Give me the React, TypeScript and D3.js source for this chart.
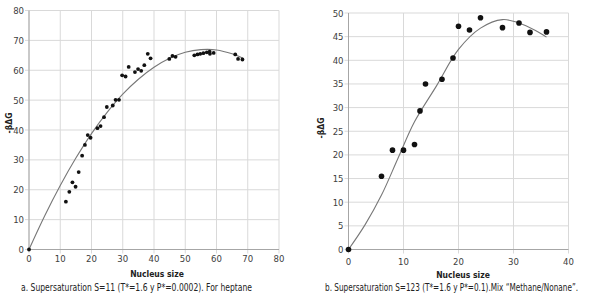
import React, { useLayoutEffect, useRef } from "react";
import * as d3 from "d3";

// Chart a: heptane
const aX = [0, 11.8, 12.9, 13.9, 14.9, 15.9, 17, 17.9, 18.8, 19.7, 21.9, 22.9, 24, 24.9, 26.8, 27.7, 28.8, 29.8, 30.9, 31.9, 33.9, 34.9, 35.9, 36.9, 38, 38.9, 44.9, 45.9, 46.9, 52.9, 53.9, 54.8, 55.8, 56.9, 57.8, 57.9, 59.1, 66, 66.9, 68.3];
const aY = [0, 16.0, 19.3, 22.5, 21.0, 25.9, 31.4, 35.0, 38.3, 37.4, 40.6, 41.3, 44.3, 47.7, 48.2, 50.1, 50.1, 58.3, 57.9, 61.1, 59.4, 60.4, 59.8, 61.7, 65.5, 64.0, 63.8, 64.8, 64.5, 65.0, 65.3, 65.5, 65.7, 66.0, 66.2, 65.5, 65.8, 65.3, 63.8, 63.6];
const aTrendX = [0, 5, 10, 15, 20, 25, 30, 35, 40, 45, 50, 55, 60, 65, 68.5];
const aTrendY = [0, 11.2, 21.4, 30.6, 38.8, 45.9, 52.0, 57.0, 61.0, 64.0, 66.0, 66.9, 66.8, 65.5, 64.0];
const aXTicks = [0, 10, 20, 30, 40, 50, 60, 70, 80];
const aYTicks = [0, 10, 20, 30, 40, 50, 60, 70, 80];
const aCaption = "a.  Supersaturation S=11 (T*=1.6 y P*=0.0002). For heptane";

// Chart b: methane/nonane
const bX = [0, 6, 8, 10, 12, 13, 14, 17, 19, 20, 22, 24, 28, 31, 33, 36];
const bY = [0, 15.5, 21, 21, 22.2, 29.3, 35, 36, 40.5, 47.2, 46.4, 49, 46.9, 47.9, 45.9, 46];
const bTrendX = [0, 3, 6, 9, 12, 16, 20, 24, 28, 31, 34, 36];
const bTrendY = [0, 5.2, 11.5, 19.3, 27.0, 34.6, 42.3, 46.8, 48.6, 47.9, 46.3, 44.9];
const bXTicks = [0, 10, 20, 30, 40];
const bYTicks = [0, 5, 10, 15, 20, 25, 30, 35, 40, 45, 50];
const bCaption = "b.  Supersaturation S=123 (T*=1.6 y P*=0.1).Mix \u201CMethane/Nonane\u201D.";

const yLabel = "-\u03B2\u0394G";
const xLabel = "Nucleus size";
const FONT = "'DejaVu Sans Condensed', 'Roboto', sans-serif";

function Caption({ text, cx, cy, w }: { text: string; cx: number; cy: number; w: number }) {
  const ref = useRef<SVGTextElement>(null);
  useLayoutEffect(() => {
    const el = ref.current;
    if (!el) return;
    const natural = el.getComputedTextLength();
    const s = natural > 0 ? w / natural : 0.8;
    el.setAttribute("transform", `translate(${cx},${cy}) scale(${s},1)`);
  }, [text, cx, cy, w]);
  return (
    <text ref={ref} transform={`translate(${cx},${cy}) scale(0.8,1)`} textAnchor="middle" fontSize={10.5}
      fontFamily={FONT} fill="#222">{text}</text>
  );
}

type PanelProps = {
  xs: number[]; ys: number[]; tx: number[]; ty: number[];
  xTicks: number[]; yTicks: number[];
  x0: number; x1: number; y0: number; y1: number;
  xMax: number; yMax: number; r: number;
  caption: string; captionX: number; captionW: number; xLabelX: number; yLabelX: number; yLabelY: number;
  xTickY: number; xLabelY: number; captionY: number;
};

function Panel(p: PanelProps) {
  const x = d3.scaleLinear().domain([0, p.xMax]).range([p.x0, p.x1]);
  const y = d3.scaleLinear().domain([0, p.yMax]).range([p.y0, p.y1]);
  const line = d3.line<number>().x((d, i) => x(p.tx[i])).y((d, i) => y(p.ty[i])).curve(d3.curveCatmullRom);
  return (
    <g>
      {p.yTicks.map((t) => (
        <line key={"gy" + t} x1={p.x0 - 4} x2={p.x1} y1={y(t)} y2={y(t)} stroke="#d9d9d9" strokeWidth={1} />
      ))}
      {p.xTicks.map((t) => (
        <line key={"gx" + t} x1={x(t)} x2={x(t)} y1={p.y1} y2={p.y0 + 4} stroke="#d9d9d9" strokeWidth={1} />
      ))}
      <line x1={p.x0} x2={p.x0} y1={p.y1} y2={p.y0} stroke="#a6a6a6" strokeWidth={1} />
      <line x1={p.x0} x2={p.x1} y1={p.y0} y2={p.y0} stroke="#a6a6a6" strokeWidth={1} />
      {p.yTicks.map((t) => (
        <text key={"ly" + t} x={p.x0 - 5} y={y(t) + 3.5} textAnchor="end" fontSize={9.5} fontFamily={FONT} fill="#404040">{t}</text>
      ))}
      {p.xTicks.map((t) => (
        <text key={"lx" + t} x={x(t)} y={p.xTickY} textAnchor="middle" fontSize={9.5} fontFamily={FONT} fill="#404040">{t}</text>
      ))}
      <path d={line(p.tx) || ""} fill="none" stroke="#777" strokeWidth={1.1} />
      {p.xs.map((v, i) => (
        <circle key={"pt" + i} cx={x(v)} cy={y(p.ys[i])} r={p.r} fill="#111" />
      ))}
      <text x={p.xLabelX} y={p.xLabelY} textAnchor="middle" fontSize={8.5} fontWeight="bold" fontFamily={FONT} fill="#222">{xLabel}</text>
      <text transform={`translate(${p.yLabelX},${p.yLabelY}) rotate(-90)`} textAnchor="middle" fontSize={8.5} fontWeight="bold" fontFamily={FONT} fill="#222">{yLabel}</text>
      <Caption text={p.caption} cx={p.captionX} cy={p.captionY} w={p.captionW} />
    </g>
  );
}

export default function App() {
  return (
    <svg width={589} height={298} style={{ position: "absolute", left: 0, top: 0, background: "#fff" }}>
      <rect width={589} height={298} fill="#fff" />
      <Panel xs={aX} ys={aY} tx={aTrendX} ty={aTrendY} xTicks={aXTicks} yTicks={aYTicks}
        x0={29} x1={279} y0={249.5} y1={10.5} xMax={80} yMax={80} r={1.9}
        caption={aCaption} captionX={136.5} captionW={231} captionY={290.5} xLabelX={157} xLabelY={277}
        yLabelX={12} yLabelY={123} xTickY={262} />
      <Panel xs={bX} ys={bY} tx={bTrendX} ty={bTrendY} xTicks={bXTicks} yTicks={bYTicks}
        x0={348.5} x1={568.5} y0={249.5} y1={13} xMax={40} yMax={50} r={2.8}
        caption={bCaption} captionX={451.5} captionW={253} captionY={290.5} xLabelX={463} xLabelY={278}
        yLabelX={324} yLabelY={128} xTickY={265} />
    </svg>
  );
}
